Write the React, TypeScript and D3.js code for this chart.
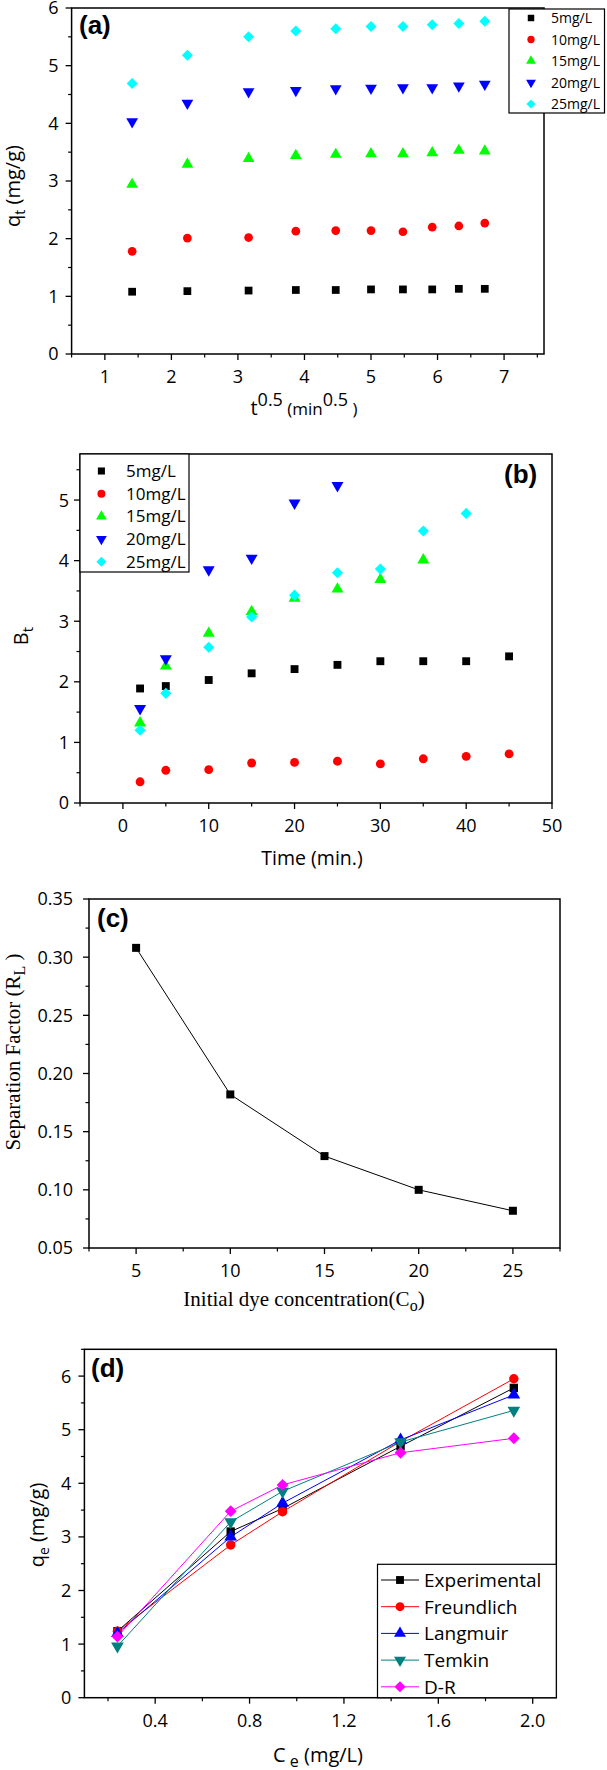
import React from 'react';
import * as d3 from 'd3';

const W = 607;
const H = 1770;
const SANS = '"Open Sans", "Noto Sans", sans-serif';
const BOLD = '"Liberation Sans", Arial, sans-serif';
const SERIF = '"Liberation Serif", "Times New Roman", serif';

// ---------- Panel (a): q_t vs t^0.5 ----------
const aSqrtTime = [1.41, 2.24, 3.16, 3.87, 4.47, 5.0, 5.48, 5.92, 6.32, 6.71];
const aQt5 = [1.08, 1.09, 1.1, 1.11, 1.11, 1.12, 1.12, 1.12, 1.13, 1.13];
const aQt10 = [1.78, 2.01, 2.02, 2.13, 2.14, 2.14, 2.12, 2.2, 2.22, 2.27];
const aQt15 = [2.94, 3.29, 3.39, 3.44, 3.46, 3.47, 3.47, 3.49, 3.53, 3.52];
const aQt20 = [4.03, 4.35, 4.55, 4.57, 4.6, 4.61, 4.62, 4.62, 4.65, 4.68];
const aQt25 = [4.69, 5.18, 5.5, 5.6, 5.64, 5.68, 5.68, 5.71, 5.73, 5.77];
const aXTicks = [1, 2, 3, 4, 5, 6, 7];
const aYTicks = [0, 1, 2, 3, 4, 5, 6];

// ---------- Panel (b): B_t vs time ----------
const bTime = [2, 5, 10, 15, 20, 25, 30, 35, 40, 45];
const bBt5 = [1.89, 1.93, 2.03, 2.14, 2.21, 2.28, 2.34, 2.34, 2.34, 2.42];
const bBt10 = [0.35, 0.54, 0.55, 0.66, 0.67, 0.69, 0.645, 0.73, 0.77, 0.81];
const bBt15 = [1.32, 2.26, 2.8, 3.16, 3.38, 3.53, 3.69, 4.01];
const bBt20 = [1.56, 2.38, 3.85, 4.04, 4.95, 5.24];
const bBt25 = [1.2, 1.81, 2.57, 3.07, 3.43, 3.8, 3.86, 4.49, 4.78];
const bXTicks = [0, 10, 20, 30, 40, 50];
const bYTicks = [0, 1, 2, 3, 4, 5];

const concLabels = ['5mg/L', '10mg/L', '15mg/L', '20mg/L', '25mg/L'];
const concColors = ['#000000', '#ff0000', '#00ff00', '#0000ff', '#00ffff'];
const concShapes = ['square', 'circle', 'triangle', 'down', 'diamond'];

// ---------- Panel (c): separation factor ----------
const cConc = [5, 10, 15, 20, 25];
const cRL = [0.308, 0.182, 0.129, 0.1, 0.082];
const cXTicks = [5, 10, 15, 20, 25];
const cYTicks = [0.05, 0.1, 0.15, 0.2, 0.25, 0.3, 0.35];

// ---------- Panel (d): isotherm models ----------
const dCe = [0.24, 0.72, 0.94, 1.44, 1.92];
const dExperimental = [1.24, 3.1, 3.53, 4.69, 5.78];
const dFreundlich = [1.24, 2.85, 3.47, 4.78, 5.95];
const dLangmuir = [1.2, 3.0, 3.63, 4.81, 5.65];
const dTemkin = [0.96, 3.28, 3.85, 4.77, 5.36];
const dDR = [1.14, 3.48, 3.97, 4.57, 4.84];
const modelLabels = ['Experimental', 'Freundlich', 'Langmuir', 'Temkin', 'D-R'];
const modelColors = ['#000000', '#ff0000', '#0000ff', '#008080', '#ff00ff'];
const modelShapes = ['square', 'circle', 'triangle', 'down', 'diamond'];
const dXTicks = [0.4, 0.8, 1.2, 1.6, 2.0];
const dYTicks = [0, 1, 2, 3, 4, 5, 6];

function markerPath(shape: string, size: number): string {
  const type =
    shape === 'circle' ? d3.symbolCircle : shape === 'triangle' || shape === 'down' ? d3.symbolTriangle : d3.symbolSquare;
  return d3.symbol(type, size)() as string;
}

function Marker({ shape, x, y, color, size }: { shape: string; x: number; y: number; color: string; size: number }) {
  const rot = shape === 'down' ? 180 : shape === 'diamond' ? 45 : 0;
  return <path d={markerPath(shape, size)} transform={`translate(${x},${y}) rotate(${rot})`} fill={color} />;
}

type Lin = d3.ScaleLinear<number, number>;

function Axes({
  x, y, xTicks, xMinor, yTicks, yMinor, xFmt, yFmt, yGap, fontSize = 18,
}: {
  x: Lin; y: Lin; xTicks: number[]; xMinor: number[]; yTicks: number[]; yMinor: number[];
  xFmt: (v: number) => string; yFmt: (v: number) => string; yGap: number; fontSize?: number;
}) {
  const [x0, x1] = x.range();
  const [y0, y1] = y.range();
  return (
    <g>
      <rect x={x0} y={y1} width={x1 - x0} height={y0 - y1} fill="none" stroke="#000" strokeWidth={1.5} />
      {xTicks.map((t) => (
        <line key={'xt' + t} x1={x(t)} x2={x(t)} y1={y0} y2={y0 + 6} stroke="#000" strokeWidth={1.3} />
      ))}
      {xMinor.map((t) => (
        <line key={'xm' + t} x1={x(t)} x2={x(t)} y1={y0} y2={y0 + 3.5} stroke="#000" strokeWidth={1.2} />
      ))}
      {yTicks.map((t) => (
        <line key={'yt' + t} x1={x0 - 6} x2={x0} y1={y(t)} y2={y(t)} stroke="#000" strokeWidth={1.3} />
      ))}
      {yMinor.map((t) => (
        <line key={'ym' + t} x1={x0 - 3.5} x2={x0} y1={y(t)} y2={y(t)} stroke="#000" strokeWidth={1.2} />
      ))}
      {xTicks.map((t) => (
        <text key={'xl' + t} x={x(t)} y={y0 + 29} textAnchor="middle" fontSize={fontSize} fontFamily={SANS} fill="#000">
          {xFmt(t)}
        </text>
      ))}
      {yTicks.map((t) => (
        <text key={'yl' + t} x={x0 - yGap} y={y(t) + fontSize * 0.36} textAnchor="end" fontSize={fontSize} fontFamily={SANS} fill="#000">
          {yFmt(t)}
        </text>
      ))}
    </g>
  );
}

function minorBetween(start: number, stop: number, step: number, majors: number[]): number[] {
  return d3.range(start, stop + step / 2, step).filter((v) => !majors.some((m) => Math.abs(m - v) < step / 10));
}

export default function App() {
  // Panel (a)
  const ax = d3.scaleLinear().domain([0.5, 7.6]).range([71.6, 544]);
  const ay = d3.scaleLinear().domain([0, 6]).range([354, 8]);
  const aSeries = [aQt5, aQt10, aQt15, aQt20, aQt25];

  // Panel (b)
  const bx = d3.scaleLinear().domain([-5, 50]).range([80, 552]);
  const by = d3.scaleLinear().domain([0, 5.76]).range([803, 454]);
  const bSeries = [bBt5, bBt10, bBt15, bBt20, bBt25];

  // Panel (c)
  const cx = d3.scaleLinear().domain([2.5, 27.5]).range([89, 560]);
  const cy = d3.scaleLinear().domain([0.05, 0.35]).range([1248, 899]);
  const cLine = d3.line<number>().x((_, i) => cx(cConc[i])).y((v) => cy(v));

  // Panel (d)
  const dx = d3.scaleLinear().domain([0.1, 2.1]).range([84.4, 556.3]);
  const dy = d3.scaleLinear().domain([0, 6.5]).range([1697.7, 1349.3]);
  const dSeries = [dExperimental, dFreundlich, dLangmuir, dTemkin, dDR];
  const dLine = d3.line<number>().x((_, i) => dx(dCe[i])).y((v) => dy(v));

  return (
    <svg width={W} height={H} style={{ position: 'absolute', left: 0, top: 0, background: '#fff' }}>
      <rect x={0} y={0} width={W} height={H} fill="#fff" />

      {/* ================= (a) ================= */}
      <Axes
        x={ax} y={ay} xTicks={aXTicks} xMinor={minorBetween(0.5, 7.5, 0.5, aXTicks)}
        yTicks={aYTicks} yMinor={minorBetween(0.5, 5.5, 0.5, aYTicks)}
        xFmt={(v) => String(v)} yFmt={(v) => String(v)} yGap={13}
      />
      {aSeries.map((s, si) =>
        s.map((v, i) => (
          <Marker key={`a${si}-${i}`} shape={concShapes[si]} x={ax(aSqrtTime[i])} y={ay(v)} color={concColors[si]} size={60} />
        ))
      )}
      <text x={79} y={34} fontFamily={BOLD} fontWeight="bold" fontSize={26}>(a)</text>
      <g>
        <rect x={509} y={9} width={95.5} height={104} fill="#fff" stroke="#000" strokeWidth={1.2} />
        {concLabels.map((l, i) => (
          <g key={'la' + i}>
            <Marker shape={concShapes[i]} x={531} y={18 + i * 21.5} color={concColors[i]} size={42} />
            <text x={551} y={18 + i * 21.5 + 5} fontFamily={SANS} fontSize={14}>{l}</text>
          </g>
        ))}
      </g>
      <text transform="translate(20,186) rotate(-90)" textAnchor="middle" fontFamily={SANS} fontSize={20}>
        q<tspan fontSize={14} dy={5}>t</tspan><tspan dy={-5}> (mg/g)</tspan>
      </text>
      <text x={304} y={415} textAnchor="middle" fontFamily={SANS} fontSize={20}>
        t<tspan fontSize={18} dy={-9}>0.5</tspan>
        <tspan fontSize={17} dy={9}>{'  (min'}</tspan>
        <tspan fontSize={18} dy={-9}>0.5</tspan>
        <tspan fontSize={17} dy={9}>{' )'}</tspan>
      </text>

      {/* ================= (b) ================= */}
      <Axes
        x={bx} y={by} xTicks={bXTicks} xMinor={minorBetween(-5, 45, 5, bXTicks)}
        yTicks={bYTicks} yMinor={minorBetween(0.5, 5.5, 0.5, bYTicks)}
        xFmt={(v) => String(v)} yFmt={(v) => String(v)} yGap={11}
      />
      {bSeries.map((s, si) =>
        s.map((v, i) => (
          <Marker key={`b${si}-${i}`} shape={concShapes[si]} x={bx(bTime[i])} y={by(v)} color={concColors[si]} size={62} />
        ))
      )}
      <text x={504} y={483} fontFamily={BOLD} fontWeight="bold" fontSize={26}>(b)</text>
      <g>
        <rect x={80} y={454} width={109} height={118} fill="#fff" stroke="#000" strokeWidth={1.2} />
        {concLabels.map((l, i) => (
          <g key={'lb' + i}>
            <Marker shape={concShapes[i]} x={101.4} y={471 + i * 22.7} color={concColors[i]} size={50} />
            <text x={126} y={471 + i * 22.7 + 6} fontFamily={SANS} fontSize={17}>{l}</text>
          </g>
        ))}
      </g>
      <text transform="translate(28,636) rotate(-90)" textAnchor="middle" fontFamily={SANS} fontSize={20}>
        B<tspan fontSize={15} dy={5}>t</tspan>
      </text>
      <text x={312} y={865} textAnchor="middle" fontFamily={SANS} fontSize={19.5}>Time (min.)</text>

      {/* ================= (c) ================= */}
      <Axes
        x={cx} y={cy} xTicks={cXTicks} xMinor={minorBetween(2.5, 27.5, 2.5, cXTicks)}
        yTicks={cYTicks} yMinor={minorBetween(0.075, 0.325, 0.05, cYTicks)}
        xFmt={(v) => String(v)} yFmt={(v) => v.toFixed(2)} yGap={16}
      />
      <path d={cLine(cRL) as string} fill="none" stroke="#000" strokeWidth={1} />
      {cRL.map((v, i) => (
        <Marker key={'c' + i} shape="square" x={cx(cConc[i])} y={cy(v)} color="#000" size={64} />
      ))}
      <text x={97} y={927} fontFamily={BOLD} fontWeight="bold" fontSize={26}>(c)</text>
      <text transform="translate(20,1052) rotate(-90)" textAnchor="middle" fontFamily={SERIF} fontSize={21}>
        Separation Factor (R<tspan fontSize={16} dy={5}>L</tspan><tspan dy={-5}>{' )'}</tspan>
      </text>
      <text x={304} y={1306} textAnchor="middle" fontFamily={SERIF} fontSize={21}>
        Initial dye concentration(C<tspan fontSize={16} dy={5}>o</tspan><tspan dy={-5}>)</tspan>
      </text>

      {/* ================= (d) ================= */}
      <Axes
        x={dx} y={dy} xTicks={dXTicks} xMinor={[0.2, 0.6, 1.0, 1.4, 1.8]}
        yTicks={dYTicks} yMinor={minorBetween(0.5, 6.5, 0.5, dYTicks)}
        xFmt={(v) => v.toFixed(1)} yFmt={(v) => String(v)} yGap={13}
      />
      {dSeries.map((s, si) => (
        <path key={'dl' + si} d={dLine(s) as string} fill="none" stroke={modelColors[si]} strokeWidth={1} />
      ))}
      {dSeries.map((s, si) =>
        s.map((v, i) => (
          <Marker key={`d${si}-${i}`} shape={modelShapes[si]} x={dx(dCe[i])} y={dy(v)} color={modelColors[si]} size={70} />
        ))
      )}
      <text x={91} y={1377} fontFamily={BOLD} fontWeight="bold" fontSize={26}>(d)</text>
      <g>
        <rect x={377.5} y={1564.3} width={178.8} height={133.4} fill="#fff" stroke="#000" strokeWidth={1.2} />
        {modelLabels.map((l, i) => (
          <g key={'ld' + i}>
            <line x1={381} x2={419} y1={1580 + i * 26.7} y2={1580 + i * 26.7} stroke={modelColors[i]} strokeWidth={1} />
            <Marker shape={modelShapes[i]} x={400} y={1580 + i * 26.7} color={modelColors[i]} size={62} />
            <text x={424} y={1580 + i * 26.7 + 7} fontFamily={SANS} fontSize={19}>{l}</text>
          </g>
        ))}
      </g>
      <text transform="translate(44,1525) rotate(-90)" textAnchor="middle" fontFamily={SANS} fontSize={20}>
        q<tspan fontSize={14} dy={5}>e</tspan><tspan dy={-5}> (mg/g)</tspan>
      </text>
      <text x={318} y={1762} textAnchor="middle" fontFamily={SANS} fontSize={20}>
        C<tspan fontSize={16} dy={5}>{' e'}</tspan><tspan dy={-5}>{'  (mg/L)'}</tspan>
      </text>
    </svg>
  );
}
